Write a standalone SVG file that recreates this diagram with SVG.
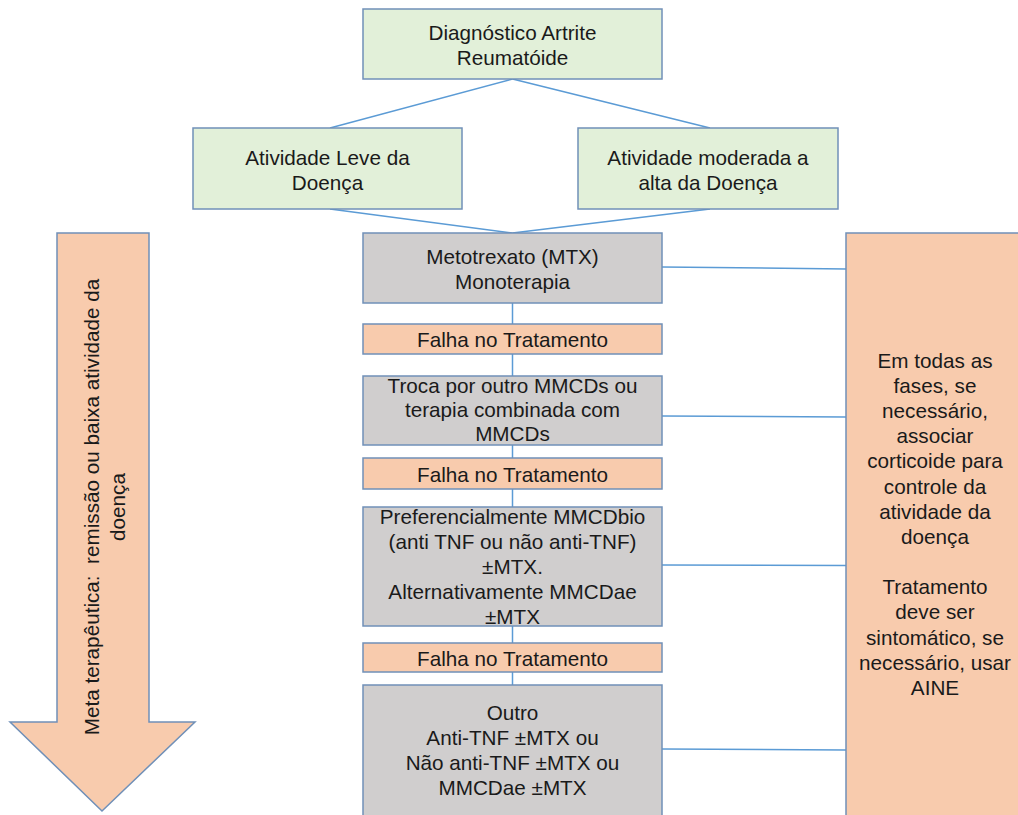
<svg xmlns="http://www.w3.org/2000/svg" width="1018" height="815" viewBox="0 0 1018 815">
<style>
.box{stroke:#7090B8;stroke-width:1.5}
.green{fill:#E2F0D9}
.gray{fill:#D0CECE}
.orange{fill:#F8CBAD}
.t{font-family:"Liberation Sans",Arial,sans-serif;font-size:20.7px;fill:#1a1a1a;text-anchor:middle}
.c{stroke:#5B9BD5;stroke-width:1.5;fill:none}
</style>
<rect width="1018" height="815" fill="#ffffff"/>
<g id="connectors">
<line class="c" x1="512.5" y1="79" x2="330" y2="128"/>
<line class="c" x1="512.5" y1="79" x2="710" y2="128"/>
<line class="c" x1="330" y1="209" x2="512.5" y2="233"/>
<line class="c" x1="710" y1="209" x2="512.5" y2="233"/>
<line class="c" x1="512.5" y1="303" x2="512.5" y2="324"/>
<line class="c" x1="512.5" y1="354" x2="512.5" y2="376"/>
<line class="c" x1="512.5" y1="445" x2="512.5" y2="458"/>
<line class="c" x1="512.5" y1="489" x2="512.5" y2="507"/>
<line class="c" x1="512.5" y1="626" x2="512.5" y2="643"/>
<line class="c" x1="512.5" y1="672" x2="512.5" y2="685"/>
<line class="c" x1="662" y1="267" x2="846" y2="269"/>
<line class="c" x1="662" y1="416" x2="846" y2="417"/>
<line class="c" x1="662" y1="565" x2="846" y2="565.5"/>
<line class="c" x1="662" y1="749" x2="846" y2="750"/>
</g>
<g id="meta-arrow">
<polygon class="box orange" points="57,233 149,233 149,722 195,722 102,811 10,722 57,722"/>
<g transform="translate(0,507) rotate(-90)">
<text class="t" x="0" y="99" xml:space="preserve">Meta terapêutica:  remissão ou baixa atividade da</text>
<text class="t" x="0" y="125">doença</text>
</g>
</g>
<g id="diagnostico">
<rect class="box green" x="363" y="9" width="299" height="70"/>
<text class="t" x="512.5" y="40">Diagnóstico Artrite</text>
<text class="t" x="512.5" y="65">Reumatóide</text>
</g>
<g id="atividade-leve">
<rect class="box green" x="193" y="128" width="269" height="81"/>
<text class="t" x="327.5" y="165">Atividade Leve da</text>
<text class="t" x="327.5" y="190">Doença</text>
</g>
<g id="atividade-moderada">
<rect class="box green" x="578" y="128" width="260" height="81"/>
<text class="t" x="708" y="165">Atividade moderada a</text>
<text class="t" x="708" y="190">alta da Doença</text>
</g>
<g id="mtx">
<rect class="box gray" x="363" y="233" width="299" height="70"/>
<text class="t" x="512.5" y="264">Metotrexato (MTX)</text>
<text class="t" x="512.5" y="289">Monoterapia</text>
</g>
<g id="falha1">
<rect class="box orange" x="363" y="324" width="299" height="30"/>
<text class="t" x="512.5" y="347">Falha no Tratamento</text>
</g>
<g id="troca">
<rect class="box gray" x="363" y="376" width="299" height="69"/>
<text class="t" x="512.5" y="393">Troca por outro MMCDs ou</text>
<text class="t" x="512.5" y="417">terapia combinada com</text>
<text class="t" x="512.5" y="441">MMCDs</text>
</g>
<g id="falha2">
<rect class="box orange" x="363" y="458" width="299" height="31"/>
<text class="t" x="512.5" y="482">Falha no Tratamento</text>
</g>
<g id="mmcdbio">
<rect class="box gray" x="363" y="507" width="299" height="119"/>
<text class="t" x="512.5" y="524">Preferencialmente MMCDbio</text>
<text class="t" x="512.5" y="549">(anti TNF ou não anti-TNF)</text>
<text class="t" x="512.5" y="574">±MTX.</text>
<text class="t" x="512.5" y="599">Alternativamente MMCDae</text>
<text class="t" x="512.5" y="624">±MTX</text>
</g>
<g id="falha3">
<rect class="box orange" x="363" y="643" width="299" height="29"/>
<text class="t" x="512.5" y="666">Falha no Tratamento</text>
</g>
<g id="outro">
<rect class="box gray" x="363" y="685" width="299" height="140"/>
<text class="t" x="512.5" y="720">Outro</text>
<text class="t" x="512.5" y="745">Anti-TNF ±MTX ou</text>
<text class="t" x="512.5" y="770">Não anti-TNF ±MTX ou</text>
<text class="t" x="512.5" y="795">MMCDae ±MTX</text>
</g>
<g id="corticoide">
<rect class="box orange" x="846" y="233" width="180" height="600"/>
<text class="t" x="935" y="368">Em todas as</text>
<text class="t" x="935" y="393">fases, se</text>
<text class="t" x="935" y="418">necessário,</text>
<text class="t" x="935" y="443">associar</text>
<text class="t" x="935" y="468">corticoide para</text>
<text class="t" x="935" y="494">controle da</text>
<text class="t" x="935" y="519">atividade da</text>
<text class="t" x="935" y="544">doença</text>
<text class="t" x="935" y="594">Tratamento</text>
<text class="t" x="935" y="619">deve ser</text>
<text class="t" x="935" y="645">sintomático, se</text>
<text class="t" x="935" y="670">necessário, usar</text>
<text class="t" x="935" y="695">AINE</text>
</g>
</svg>
